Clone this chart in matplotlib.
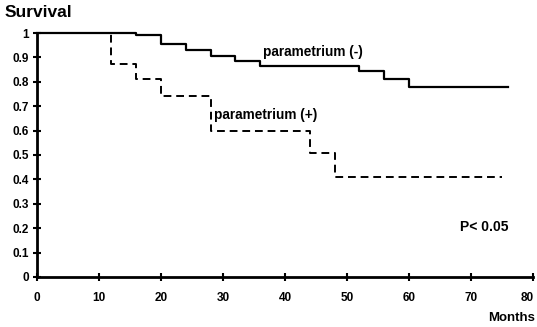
import matplotlib
matplotlib.use("Agg")
import matplotlib.pyplot as plt
import matplotlib.transforms as mtransforms

plt.rcParams['font.family'] = ['Liberation Sans', 'DejaVu Sans']

# Kaplan-Meier step data (months, survival)
neg_times = [0, 16, 20, 24, 28, 32, 36, 52, 56, 60, 76]
neg_surv = [1.0, 0.99, 0.955, 0.93, 0.907, 0.885, 0.865, 0.845, 0.81, 0.777, 0.777]
pos_times = [0, 12, 16, 20, 28, 44, 48, 75]
pos_surv = [1.0, 0.875, 0.81, 0.74, 0.60, 0.51, 0.41, 0.41]

x_ticks = [0, 10, 20, 30, 40, 50, 60, 70, 80]
y_ticks = [0, 0.1, 0.2, 0.3, 0.4, 0.5, 0.6, 0.7, 0.8, 0.9, 1]
y_labels = ["0", "0.1", "0.2", "0.3", "0.4", "0.5", "0.6", "0.7", "0.8", "0.9", "1"]

fig = plt.figure(figsize=(5.37, 3.27), dpi=100)
ax = fig.add_axes([0.0689, 0.153, 0.9237, 0.746])

ax.step(neg_times, neg_surv, where='post', color='black', lw=1.6, clip_on=False, zorder=3)
ax.step(pos_times, pos_surv, where='post', color='black', lw=1.4, ls=(0, (4, 2.5)), clip_on=False, zorder=3)

ax.set_xlim(0, 80)
ax.set_ylim(0, 1)
for s in ['top', 'right']:
    ax.spines[s].set_visible(False)
for s in ['left', 'bottom']:
    ax.spines[s].set_linewidth(2.0)
ax.set_xticks(x_ticks)
ax.set_xticklabels([str(v) for v in x_ticks], fontweight='bold', fontsize=8.5)
ax.set_yticks(y_ticks)
ax.set_yticklabels(y_labels, fontweight='bold', fontsize=8.5)
ax.tick_params(axis='both', direction='inout', length=6, width=1.5, pad=3)
ax.tick_params(axis='x', pad=8)

# keep the last x tick label inside the figure
last = ax.get_xticklabels()[-1]
last.set_transform(last.get_transform() + mtransforms.ScaledTranslation(-4 / 72, 0, fig.dpi_scale_trans))

fig.text(0.008, 0.962, "Survival", fontsize=12.5, fontweight='bold', va='center', ha='left')
ax.text(36.5, 0.922, "parametrium (-)", fontsize=9.8, fontweight='bold', ha='left', va='center')
ax.text(28.6, 0.664, "parametrium (+)", fontsize=9.8, fontweight='bold', ha='left', va='center')
ax.text(68.2, 0.205, "P< 0.05", fontsize=10, fontweight='bold', ha='left', va='center')
fig.text(0.996, 0.027, "Months", fontsize=9.5, fontweight='bold', ha='right', va='center')

fig.savefig("out.png", dpi=100)
